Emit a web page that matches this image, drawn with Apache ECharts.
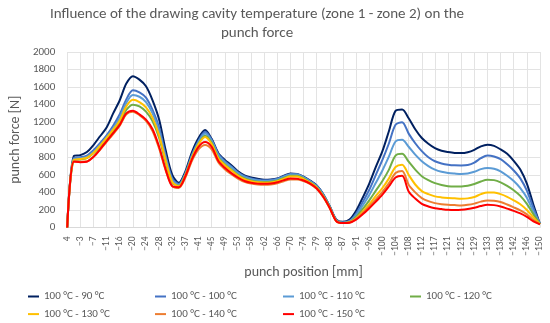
<!DOCTYPE html>
<html>
<head>
<meta charset="utf-8">
<script src="https://cdn.jsdelivr.net/npm/echarts@6/dist/echarts.min.js"></script>
<style>
html,body{margin:0;padding:0;background:#fff;}
#chart{width:550px;height:323px;}
</style>
</head>
<body>
<div id="chart"></div>
<script>
// Tick labels of the category axis (punch position, mm)
const tickLabels = ['4','−3','−7','−11','−16','−20','−24','−28','−32','−37','−41','−45','−49','−53','−58','−62','−66','−70','−74','−79','−83','−87','−91','−96','−100','−104','−108','−112','−117','−121','−125','−129','−133','−138','−142','−146','−150'];
const pointsPerTick = 2;

const seriesNames = ['100 °C - 90 °C','100 °C - 100 °C','100 °C - 110 °C','100 °C - 120 °C','100 °C - 130 °C','100 °C - 140 °C','100 °C - 150 °C'];

// punch force [N], two samples per labelled interval
const s90 = [0,815,825,860,940,1040,1140,1300,1450,1640,1725,1685,1610,1450,1230,880,600,510,640,860,1020,1110,1010,850,770,710,640,595,570,555,545,548,560,590,615,610,580,535,480,380,240,90,65,90,190,340,500,690,870,1100,1330,1345,1245,1120,1020,955,905,875,860,850,848,858,885,925,943,930,890,840,760,660,500,260,40];
const s100 = [0,790,800,820,880,960,1050,1160,1290,1460,1565,1540,1480,1340,1140,820,560,495,620,830,990,1090,1000,840,755,695,630,585,560,545,538,540,555,585,610,608,575,530,475,375,235,85,60,75,160,290,430,600,770,960,1170,1200,1070,960,870,800,755,730,715,708,707,712,740,790,820,810,780,720,650,560,420,220,40];
const s110 = [0,780,790,805,860,940,1030,1130,1250,1420,1510,1490,1430,1300,1100,790,540,485,610,815,975,1070,985,825,745,685,620,575,550,537,530,533,548,578,605,605,572,525,470,370,230,80,55,70,140,250,370,510,650,810,980,1000,920,830,755,700,660,635,622,615,610,615,635,665,678,670,640,590,530,450,340,180,40];
const s120 = [0,770,775,790,845,920,1010,1100,1200,1340,1400,1380,1320,1210,1020,740,510,475,600,800,955,1045,965,800,720,660,600,558,535,522,518,520,535,565,590,590,560,515,460,360,225,75,52,62,120,210,310,420,530,660,820,840,750,660,585,540,506,485,470,466,468,475,495,525,544,540,515,475,425,360,270,150,40];
const s130 = [0,770,780,795,850,930,1020,1115,1220,1380,1455,1430,1370,1250,1050,760,520,470,595,795,950,1030,950,790,710,650,592,550,528,515,510,513,528,556,580,580,552,510,455,355,222,72,50,60,105,180,265,360,450,560,690,715,600,490,415,380,355,343,336,332,328,332,348,380,400,398,380,350,310,265,200,115,38];
const s140 = [0,755,750,755,805,885,975,1065,1160,1290,1320,1280,1215,1100,900,650,475,450,570,760,890,940,890,745,665,608,558,520,500,490,487,490,503,528,548,548,528,495,440,345,218,70,50,57,98,165,240,320,405,505,620,645,487,400,335,300,278,266,259,255,252,258,272,295,308,305,290,262,230,195,150,85,36];
const s150 = [0,750,745,750,805,890,985,1075,1170,1300,1330,1290,1230,1120,920,660,470,460,585,780,920,975,920,760,680,620,570,530,510,500,498,502,515,540,558,555,535,500,445,350,220,70,50,55,90,150,220,295,375,470,570,590,410,330,270,240,220,210,202,200,202,210,225,245,258,255,240,215,190,160,120,70,35];

const seriesColors = ['#002060','#4472C4','#5B9BD5','#70AD47','#FFC000','#ED7D31','#FF0000'];

// Build category list: labelled ticks with unlabeled samples in between
const categories = [];
tickLabels.forEach(function (t, i) {
  categories.push(t);
  if (i < tickLabels.length - 1) {
    for (let j = 1; j < pointsPerTick; j++) categories.push('');
  }
});

const allData = [s90, s100, s110, s120, s130, s140, s150];
const FONT = 'Carlito, Lato, "Liberation Sans", sans-serif';
const TXT = '#595959';

const chart = echarts.init(document.getElementById('chart'), null, {renderer: 'canvas'});

function legendCol(names, left) {
  return {
    data: names, orient: 'vertical', left: left, top: 289.5, padding: 0,
    itemWidth: 11, itemHeight: 14, itemGap: 3.6,
    icon: 'path://M0,6 L11,6 L11,8 L0,8 Z',
    textStyle: {color: TXT, fontSize: 11, fontFamily: FONT, lineHeight: 14},
    selectedMode: false
  };
}

const option = {
  animation: false,
  backgroundColor: '#fff',
  title: {
    text: 'Influence of the drawing cavity temperature (zone 1 - zone 2) on the\npunch force',
    left: 252, top: 0, textAlign: 'center',
    textStyle: {color: TXT, fontSize: 15, fontWeight: 'normal', fontFamily: FONT, lineHeight: 19}
  },
  legend: [
    legendCol([seriesNames[0], seriesNames[4]], 28),
    legendCol([seriesNames[1], seriesNames[5]], 155),
    legendCol([seriesNames[2], seriesNames[6]], 283),
    legendCol([seriesNames[3]], 410)
  ],
  grid: {left: 56, right: 10, top: 52, bottom: 95.5, containLabel: false},
  xAxis: {
    type: 'category', data: categories, boundaryGap: false,
    name: 'punch position [mm]', nameLocation: 'middle', nameGap: 38,
    nameTextStyle: {color: TXT, fontSize: 14, fontFamily: FONT},
    axisLine: {show: true, lineStyle: {color: '#d9d9d9', width: 1}},
    axisTick: {show: false},
    axisLabel: {interval: pointsPerTick - 1, rotate: 90, margin: 9, color: TXT, fontSize: 9.5, fontFamily: FONT},
    splitLine: {show: true, interval: pointsPerTick - 1, lineStyle: {color: '#e3e3e3', width: 1}}
  },
  yAxis: {
    type: 'value', min: 0, max: 2000, interval: 200,
    name: 'punch force [N]', nameLocation: 'middle', nameGap: 36, nameRotate: 90,
    nameTextStyle: {color: TXT, fontSize: 14, fontFamily: FONT},
    axisLine: {show: false}, axisTick: {show: false},
    axisLabel: {color: TXT, fontSize: 11, fontFamily: FONT, margin: 12, formatter: function (v) { return String(v); }},
    splitLine: {show: true, lineStyle: {color: '#e3e3e3', width: 1}}
  },
  series: allData.map(function (d, i) {
    return {
      name: seriesNames[i], type: 'line', data: d,
      symbol: 'none', smooth: 0.3,
      lineStyle: {color: seriesColors[i], width: 2},
      itemStyle: {color: seriesColors[i]},
      z: 2 + i
    };
  })
};
chart.setOption(option);
</script>
</body>
</html>
